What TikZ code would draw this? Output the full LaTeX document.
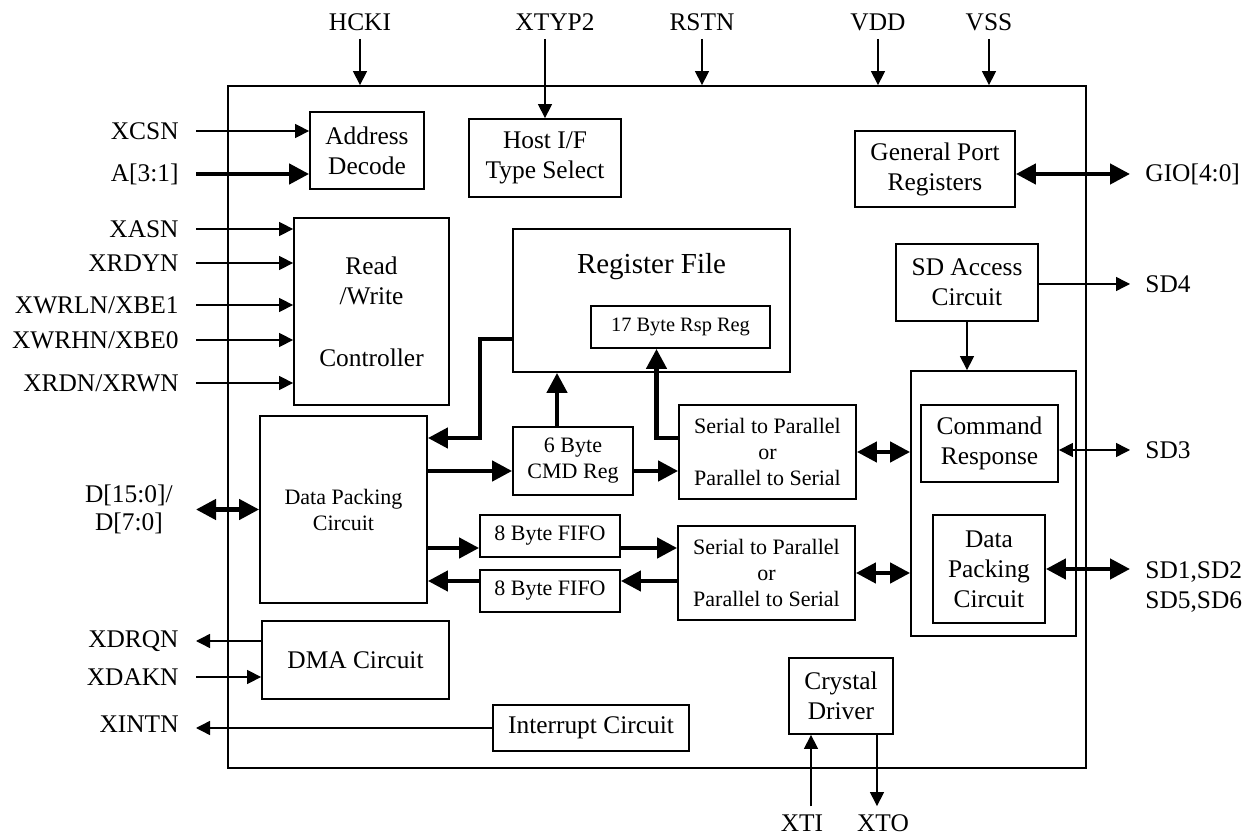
\documentclass[tikz,border=0pt]{standalone}
\usepackage{fontspec}
\setmainfont{Liberation Serif}
\usetikzlibrary{arrows.meta}

\begin{document}
\begin{tikzpicture}[x=0.5pt,y=-0.5pt]

%
% Styles
%
\tikzstyle{block}      = [draw,line width=0.9pt,inner sep=0pt,align=center,font=\fontsize{12.7}{15}\selectfont]
\tikzstyle{smallblock} = [block,font=\fontsize{11}{13}\selectfont]
\tikzstyle{lbl}        = [inner sep=4pt,font=\fontsize{12.7}{15}\selectfont]
\tikzstyle{lblleft}    = [lbl,anchor=east,inner xsep=8.5pt]
\tikzstyle{lblright}   = [lbl,anchor=west,inner xsep=7.5pt,align=left]

\tikzstyle{sig}        = [->,>={Triangle[length=7pt,width=7pt]},line width=0.7pt]
\tikzstyle{bus}        = [->,>={Triangle[length=10pt,width=10pt]},line width=2.2pt]

\useasboundingbox (0,0) rectangle (1257,838);

%
% Chip and blocks
%
\node[block,minimum width=429pt,minimum height=341pt] (chip) at (657,427) {};

\node[block,minimum width=57pt,minimum height=38.5pt]   (addr)    at (367,150.5)   {Address\\Decode};
\node[block,minimum width=76pt,minimum height=39pt]     (hostif)  at (545,158)     {Host I/F\\Type Select};
\node[block,minimum width=80pt,minimum height=38pt]     (gpreg)   at (935,169)     {General Port\\Registers};
\node[block,minimum width=77.5pt,minimum height=93.5pt] (rwctl)   at (371.5,311.5) {Read\\/Write\\[16pt]Controller};
\node[block,minimum width=138.5pt,minimum height=71.5pt,
      label={[anchor=center,yshift=-19pt,font=\fontsize{14.5}{17}\selectfont]north:Register File}]
                                                        (regfile) at (651.5,300.5) {};
\node[smallblock,font=\fontsize{10.2}{12}\selectfont,minimum width=89.5pt,minimum height=21pt]
                                                        (rspreg)  at (680.5,327)   {17 Byte Rsp Reg};
\node[block,minimum width=71pt,minimum height=38.5pt]   (sdacc)   at (967,282.5)   {SD Access\\Circuit};
\node[block,minimum width=82.5pt,minimum height=132.5pt] (sdgrp)  at (993.5,503.5) {};
\node[block,minimum width=68.5pt,minimum height=38.5pt] (cmdresp) at (989.5,443.5) {Command\\Response};
\node[block,minimum width=56pt,minimum height=54pt]     (sddp)    at (989,569)     {Data\\Packing\\Circuit};
\node[smallblock,minimum width=88.5pt,minimum height=47pt] (s2pa)  at (767.5,452)  {Serial to Parallel\\or\\Parallel to Serial};
\node[smallblock,minimum width=88.5pt,minimum height=47pt] (s2pb)  at (766.5,573)  {Serial to Parallel\\or\\Parallel to Serial};
\node[smallblock,minimum width=83.5pt,minimum height=93.5pt] (datapack) at (343.5,509.5) {Data Packing\\Circuit};
\node[smallblock,minimum width=60pt,minimum height=34pt] (cmdreg)  at (573,461)     {6 Byte\\CMD Reg};
\node[smallblock,minimum width=70pt,minimum height=21pt] (fifoin)  at (550,536)     {8 Byte FIFO};
\node[smallblock,minimum width=70pt,minimum height=21pt] (fifoout) at (550,591)     {8 Byte FIFO};
\node[block,minimum width=93.5pt,minimum height=39pt]   (dma)     at (355.5,660)   {DMA Circuit};
\node[block,minimum width=98pt,minimum height=23pt]     (intr)    at (591,728)     {Interrupt Circuit};
\node[block,minimum width=52pt,minimum height=38pt]     (xtal)    at (841,696)     {Crystal\\Driver};

%
% Pin names
%
\node[lbl] (hcki)  at (360,22) {HCKI};
\node[lbl] (xtyp2) at (555,22) {XTYP2};
\node[lbl] (rstn)  at (702,22) {RSTN};
\node[lbl] (vdd)   at (878,22) {VDD};
\node[lbl] (vss)   at (989,22) {VSS};

\node[lblleft] (xcsn)  at (196,131) {XCSN};
\node[lblleft] (a31)   at (196,174) {A[3:1]};
\node[lblleft] (xasn)  at (196,229) {XASN};
\node[lblleft] (xrdyn) at (196,263) {XRDYN};
\node[lblleft] (xwrln) at (196,305) {XWRLN/XBE1};
\node[lblleft] (xwrhn) at (196,340) {XWRHN/XBE0};
\node[lblleft] (xrdn)  at (196,383) {XRDN/XRWN};
\node[lblleft,align=center,inner xsep=11.5pt,font=\fontsize{12.7}{14}\selectfont]
               (dbus)  at (196,509.5) {D[15:0]/\\D[7:0]};
\node[lblleft] (xdrqn) at (196,641) {XDRQN};
\node[lblleft] (xdakn) at (196,677) {XDAKN};
\node[lblleft] (xintn) at (196,724) {XINTN};

\node[lblright] (gio) at (1130,174) {GIO[4:0]};
\node[lblright] (sd4) at (1130,284) {SD4};
\node[lblright] (sd3) at (1130,450) {SD3};
\node[lblright] (sdd) at (1130,587) {SD1,SD2\\SD5,SD6};

\node[lbl] (xti) at (802,823) {XTI};
\node[lbl] (xto) at (883,823) {XTO};

%
% Connections
%
\draw[sig] (hcki.south) -- (hcki.south |- chip.north);
\draw[sig] (hostif.north |- xtyp2.south) -- (hostif.north);
\draw[sig] (rstn.south) -- (rstn.south |- chip.north);
\draw[sig] (vdd.south) -- (vdd.south |- chip.north);
\draw[sig] (vss.south) -- (vss.south |- chip.north);

\draw[sig] (xcsn.east) -- (xcsn.east -| addr.west);
\draw[bus] (a31.east) -- (a31.east -| addr.west);
\draw[sig] (xasn.east) -- (xasn.east -| rwctl.west);
\draw[sig] (xrdyn.east) -- (xrdyn.east -| rwctl.west);
\draw[sig] (xwrln.east) -- (xwrln.east -| rwctl.west);
\draw[sig] (xwrhn.east) -- (xwrhn.east -| rwctl.west);
\draw[sig] (xrdn.east) -- (xrdn.east -| rwctl.west);
\draw[bus,<->] (dbus.east) -- (dbus.east -| datapack.west);
\draw[sig] (dma.west |- xdrqn.east) -- (xdrqn.east);
\draw[sig] (xdakn.east) -- (xdakn.east -| dma.west);
\draw[sig] (intr.west) -- (intr.west -| xintn.east);

\draw[bus,<->] (gio.west -| gpreg.east) -- (gio.west);
\draw[sig] (sd4.west -| sdacc.east) -- (sd4.west);
\draw[sig,<->] (sd3.west -| cmdresp.east) -- (sd3.west);
\draw[bus,<->] (sddp.east) -- (sddp.east -| sdd.west);

\draw[sig] ([xshift=-15pt]xtal.south |- xti.north) -- ([xshift=-15pt]xtal.south);
\draw[sig] ([xshift=18pt]xtal.south) -- ([xshift=18pt]xtal.south |- xto.north);

\draw[sig] (sdacc.south) -- (sdacc.south |- sdgrp.north);

\coordinate (cmdin)    at ([yshift=-5pt]cmdreg.west);
\coordinate (cmdout)   at ([yshift=-5pt]cmdreg.east);
\coordinate (fifoinw)  at ([yshift=-6pt]fifoin.west);
\coordinate (fifoine)  at ([yshift=-6pt]fifoin.east);
\coordinate (fifooutw) at ([yshift=5pt]fifoout.west);
\coordinate (fifooute) at ([yshift=5pt]fifoout.east);

\draw[bus] ([yshift=-19.25pt]regfile.west) -- ++(-32,0) |- ([yshift=35.75pt]datapack.east);
\draw[bus] ([xshift=-8pt]cmdreg.north) -- ([xshift=-8pt]cmdreg.north |- regfile.south);
\draw[bus] (cmdin -| datapack.east) -- (cmdin);
\draw[bus] (cmdout) -- (cmdout -| s2pa.west);
\draw[bus] ([yshift=7pt]s2pa.west) -| ([xshift=-12pt]rspreg.south);
\draw[bus] (fifoinw -| datapack.east) -- (fifoinw);
\draw[bus] (fifoine) -- (fifoine -| s2pb.west);
\draw[bus] (fifooute -| s2pb.west) -- (fifooute);
\draw[bus] (fifooutw) -- (fifooutw -| datapack.east);
\draw[bus,<->] (s2pa.east) -- (s2pa.east -| sdgrp.west);
\draw[bus,<->] (s2pb.east) -- (s2pb.east -| sdgrp.west);

\end{tikzpicture}
\end{document}
